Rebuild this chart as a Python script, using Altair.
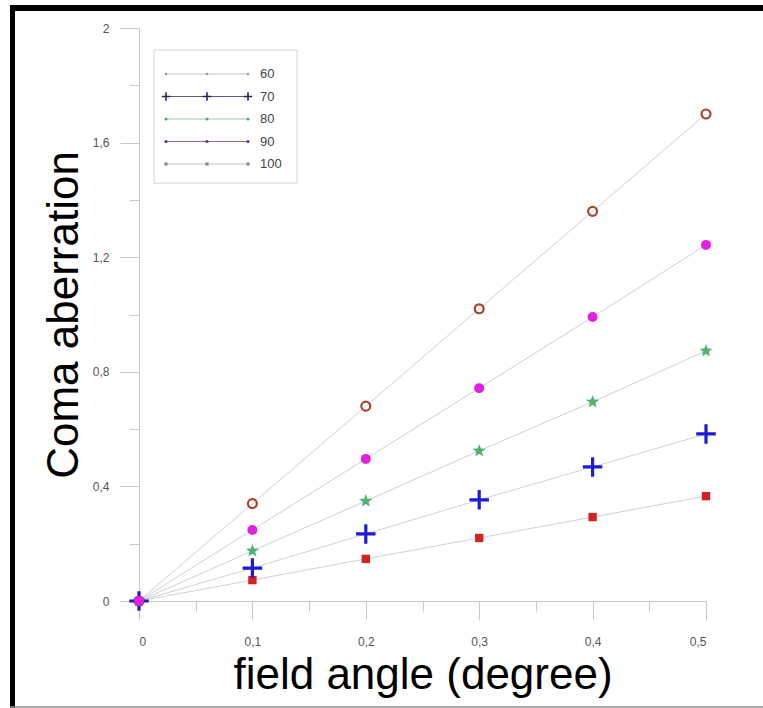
import math
import altair as alt
import pandas as pd

# ---------------- data ----------------
angles = [0, 0.1, 0.2, 0.3, 0.4, 0.5]
series_names = ["60", "70", "80", "90", "100"]
coma_60 = [0, 0.34, 0.68, 1.02, 1.36, 1.70]
coma_70 = [0, 0.115, 0.234, 0.353, 0.468, 0.583]
coma_80 = [0, 0.175, 0.349, 0.524, 0.695, 0.873]
coma_90 = [0, 0.248, 0.496, 0.743, 0.991, 1.243]
coma_100 = [0, 0.073, 0.147, 0.220, 0.293, 0.366]
x_tick_values = [0, 0.05, 0.1, 0.15, 0.2, 0.25, 0.3, 0.35, 0.4, 0.45, 0.5]
y_tick_values = [0, 0.2, 0.4, 0.6, 0.8, 1.0, 1.2, 1.4, 1.6, 1.8, 2.0]

series_values = {"60": coma_60, "70": coma_70, "80": coma_80, "90": coma_90, "100": coma_100}
rows = []
for name in series_names:
    for a, v in zip(angles, series_values[name]):
        rows.append({"series": name, "angle": a, "coma": v})
df = pd.DataFrame(rows)

# ---------------- geometry / style ----------------
W, H = 567, 573
PAD_L, PAD_T = 139, 28
FONT = "Liberation Sans"
AXIS_GRAY = "#c8c8c8"
LABEL_GRAY = "#555555"

# marker shapes (unit paths)
PLUS = "M-1,0L1,0M0,-1L0,1"
star_pts = []
for k in range(10):
    r = 1.0 if k % 2 == 0 else 0.42
    ang = -math.pi / 2 + k * math.pi / 5
    star_pts.append(f"{r*math.cos(ang):.3f},{r*math.sin(ang):.3f}")
STAR = "M" + "L".join(star_pts) + "Z"

x_major = "abs(datum.value*10 - round(datum.value*10)) < 0.001"
y_major = "abs(datum.value/0.4 - round(datum.value/0.4)) < 0.001"

x_axis = alt.Axis(
    values=x_tick_values,
    grid=False,
    domainColor=AXIS_GRAY,
    tickColor=AXIS_GRAY,
    tickSize={"condition": {"test": x_major, "value": 19}, "value": 10},
    labelExpr=f"{x_major} ? replace(format(datum.value, '.1~f'), '.', ',') : ''",
    labelFont=FONT,
    labelFontSize=12,
    labelColor=LABEL_GRAY,
    labelPadding=16,
    labelBaseline="top",
    title="field angle (degree)",
    titleFont=FONT,
    titleFontSize=44,
    titleFontWeight="normal",
    titleColor="black",
    titleBaseline="alphabetic",
    titleX=W / 2,
    titleY=87,
)
y_axis = alt.Axis(
    values=y_tick_values,
    grid=False,
    domainColor=AXIS_GRAY,
    tickColor=AXIS_GRAY,
    tickSize={"condition": {"test": y_major, "value": 19}, "value": 10},
    labelExpr=f"{y_major} ? replace(format(datum.value, '.1~f'), '.', ',') : ''",
    labelFont=FONT,
    labelFontSize=12,
    labelColor=LABEL_GRAY,
    labelPadding=11,
    title="Coma aberration",
    titleFont=FONT,
    titleFontSize=44,
    titleFontWeight="normal",
    titleColor="black",
    titleAngle=270,
    titleBaseline="alphabetic",
    titleAlign="center",
    titleX=-62,
    titleY=H / 2,
)

X = alt.X("angle:Q", scale=alt.Scale(domain=[0, 0.5], nice=False, zero=False), axis=x_axis)
Y = alt.Y("coma:Q", scale=alt.Scale(domain=[0, 2], nice=False), axis=y_axis)

base = alt.Chart(df)

lines = base.mark_line(color="#c9c9d2", strokeWidth=0.9).encode(
    x=X, y=Y, detail="series:N", order="angle:Q"
)

def pts(name, **kw):
    return base.transform_filter(alt.datum.series == name).mark_point(**kw).encode(x=X, y=Y)

p60 = pts("60", shape="circle", filled=False, color="#a8432c", strokeWidth=2.2, size=80, opacity=1)
p100 = pts("100", shape="square", filled=True, color="#d42222", size=70, opacity=1)
p80 = pts("80", shape=STAR, filled=True, color="#4db36e", size=190, opacity=1)
p70 = pts("70", shape=PLUS, filled=False, color="#1c1cd6", strokeWidth=3.2, size=380, opacity=1)
p90 = pts("90", shape="circle", filled=True, color="#e021e0", size=100, opacity=1)

# ---------------- legend (drawn manually) ----------------
one = pd.DataFrame({"k": [0]})
legend_layers = [
    alt.Chart(one).mark_rect(fill="white", stroke="#d4d4d4", strokeWidth=1).encode(
        x=alt.value(15), x2=alt.value(158), y=alt.value(22), y2=alt.value(155)
    )
]
legend_style = {
    "60": dict(line="#b8b8b8", shape="circle", filled=True, color="#999999", size=6, sw=1),
    "70": dict(line="#30306a", shape=PLUS, filled=False, color="#24245e", size=70, sw=1.6),
    "80": dict(line="#7fc48f", shape="circle", filled=True, color="#5aa86a", size=10, sw=1),
    "90": dict(line="#7d3f8e", shape="circle", filled=True, color="#6a2a7a", size=10, sw=1),
    "100": dict(line="#b4b4b4", shape="square", filled=True, color="#8a8a8a", size=10, sw=1),
}
for i, name in enumerate(series_names):
    yy = 46 + 22.5 * i
    st = legend_style[name]
    lab = pd.DataFrame({"label": [name]})
    legend_layers.append(
        alt.Chart(lab).mark_rule(color=st["line"], strokeWidth=0.8).encode(
            x=alt.value(27), x2=alt.value(109), y=alt.value(yy)
        )
    )
    for xx in (27, 68, 109):
        legend_layers.append(
            alt.Chart(lab).mark_point(
                shape=st["shape"], filled=st["filled"], color=st["color"],
                size=st["size"], strokeWidth=st["sw"], opacity=1
            ).encode(x=alt.value(xx), y=alt.value(yy))
        )
    legend_layers.append(
        alt.Chart(lab).mark_text(
            align="left", baseline="middle", font=FONT, fontSize=13, color="#444444"
        ).encode(x=alt.value(121), y=alt.value(yy), text="label:N")
    )

# ---------------- photo frame ----------------
frame = [
    alt.Chart(one).mark_rect(color="black").encode(
        x=alt.value(10 - PAD_L), x2=alt.value(763 - PAD_L), y=alt.value(5 - PAD_T), y2=alt.value(11 - PAD_T)
    ),
    alt.Chart(one).mark_rect(color="black").encode(
        x=alt.value(10 - PAD_L), x2=alt.value(15 - PAD_L), y=alt.value(5 - PAD_T), y2=alt.value(708 - PAD_T)
    ),
    alt.Chart(one).mark_rule(color="#8c8c8c", strokeWidth=1.5).encode(
        x=alt.value(10 - PAD_L), x2=alt.value(763 - PAD_L), y=alt.value(707 - PAD_T)
    ),
]

chart = alt.layer(
    lines, p60, p100, p80, p70, p90, *legend_layers, *frame
).properties(
    width=W, height=H,
    autosize=alt.AutoSizeParams(type="none"),
    padding={"left": PAD_L, "top": PAD_T, "right": 763 - PAD_L - W, "bottom": 708 - PAD_T - H},
    background="white",
).configure_view(stroke=None)

chart.save("out.html", embed_options={"renderer": "svg", "actions": False})
